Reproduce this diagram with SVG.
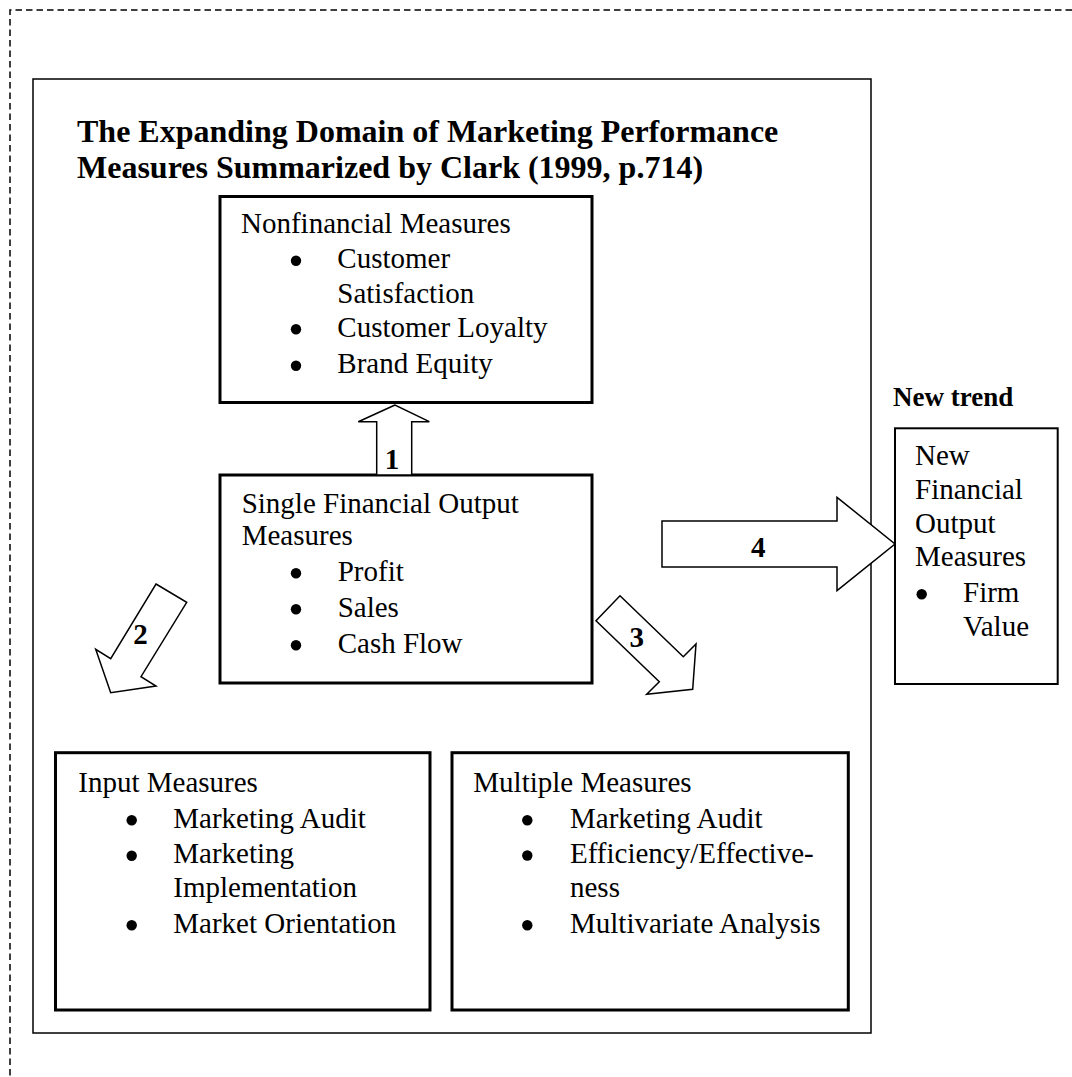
<svg xmlns="http://www.w3.org/2000/svg" width="1072" height="1077" viewBox="0 0 1072 1077">
<style>
  text { font-family: "Liberation Serif", "Times New Roman", serif; fill: #000; }
  .body { font-size: 29px; }
  .title { font-size: 32px; font-weight: bold; }
  .num { font-size: 29px; font-weight: bold; text-anchor: middle; }
  .trend { font-size: 27px; font-weight: bold; }
  .box { fill: #fff; stroke: #000; stroke-width: 3; }
  .thinbox { fill: #fff; stroke: #000; stroke-width: 2; }
  .outer { fill: #fff; stroke: #000; stroke-width: 1.5; }
  .dash { fill: none; stroke: #000; stroke-width: 1.5; stroke-dasharray: 6.5 4; }
  .arrow { fill: #fff; stroke: #000; stroke-width: 1.5; stroke-linejoin: miter; }
  .bullet { fill: #000; }
</style>
<rect width="1072" height="1077" fill="#fff"/>
<g id="frame">
  <path class="dash" d="M1072,10 H10 V1077"/>
  <rect class="outer" x="33" y="79" width="838" height="954"/>
  <text class="title" x="77" y="141.7">The Expanding Domain of Marketing Performance</text>
  <text class="title" x="77" y="178.3">Measures Summarized by Clark (1999, p.714)</text>
</g>
<g id="nonfinancial">
  <rect class="box" x="220" y="196.5" width="372" height="206"/>
  <text class="body" x="241" y="232.7">Nonfinancial Measures</text>
  <circle class="bullet" cx="296" cy="260.8" r="5.2"/>
  <text class="body" x="337.3" y="268.3">Customer</text>
  <text class="body" x="337.3" y="302.7">Satisfaction</text>
  <circle class="bullet" cx="296" cy="329.2" r="5.2"/>
  <text class="body" x="337.3" y="336.7">Customer Loyalty</text>
  <circle class="bullet" cx="296" cy="365.8" r="5.2"/>
  <text class="body" x="337.3" y="373.3">Brand Equity</text>
</g>
<g id="single">
  <rect class="box" x="220" y="475" width="372" height="208"/>
  <text class="body" x="241.7" y="512.7">Single Financial Output</text>
  <text class="body" x="241.7" y="545">Measures</text>
  <circle class="bullet" cx="296" cy="573.2" r="5.2"/>
  <text class="body" x="337.7" y="580.7">Profit</text>
  <circle class="bullet" cx="296" cy="609.2" r="5.2"/>
  <text class="body" x="337.7" y="616.7">Sales</text>
  <circle class="bullet" cx="296" cy="645.2" r="5.2"/>
  <text class="body" x="337.7" y="652.7">Cash Flow</text>
</g>
<g id="input">
  <rect class="box" x="55.5" y="752.7" width="374.5" height="257.3"/>
  <text class="body" x="78.3" y="791.7">Input Measures</text>
  <circle class="bullet" cx="131.7" cy="820.2" r="5.2"/>
  <text class="body" x="173.3" y="827.7">Marketing Audit</text>
  <circle class="bullet" cx="131.7" cy="855.8" r="5.2"/>
  <text class="body" x="173.3" y="863.3">Marketing</text>
  <text class="body" x="173.3" y="896.7">Implementation</text>
  <circle class="bullet" cx="131.7" cy="925.2" r="5.2"/>
  <text class="body" x="173.3" y="932.7">Market Orientation</text>
</g>
<g id="multiple">
  <rect class="box" x="452" y="752.7" width="396.3" height="257.3"/>
  <text class="body" x="473.3" y="791.7">Multiple Measures</text>
  <circle class="bullet" cx="527.3" cy="820.2" r="5.2"/>
  <text class="body" x="570" y="827.7">Marketing Audit</text>
  <circle class="bullet" cx="527.3" cy="855.5" r="5.2"/>
  <text class="body" x="570" y="863">Efficiency/Effective-</text>
  <text class="body" x="570" y="896.7">ness</text>
  <circle class="bullet" cx="527.3" cy="925.2" r="5.2"/>
  <text class="body" x="570" y="932.7">Multivariate Analysis</text>
</g>
<g id="newtrend">
  <text class="trend" x="893" y="406">New trend</text>
  <rect class="thinbox" x="895" y="428.3" width="162.7" height="255.7"/>
  <text class="body" x="915" y="465">New</text>
  <text class="body" x="915" y="499">Financial</text>
  <text class="body" x="915" y="532.7">Output</text>
  <text class="body" x="915" y="565.7">Measures</text>
  <circle class="bullet" cx="921.7" cy="594.2" r="5.2"/>
  <text class="body" x="963" y="601.7">Firm</text>
  <text class="body" x="963" y="636">Value</text>
</g>
<g id="connectors">
  <g id="arrow1">
    <polygon class="arrow" points="395,405 358.3,421.7 376.7,421.7 376.7,475 411.7,475 411.7,421.7 429.3,421.7"/>
    <text class="num" x="392" y="469.3">1</text>
  </g>
  <g id="arrow2">
    <polygon class="arrow" points="156,584 186.7,602.3 141,676.7 156,686 110.7,692.7 95.7,649.3 110.7,658.7"/>
    <text class="num" x="140.5" y="644">2</text>
  </g>
  <g id="arrow3">
    <polygon class="arrow" points="620,595.7 683.3,656.7 696,644 692.7,689.3 646.7,694.3 659.3,681.7 596,620.7"/>
    <text class="num" x="636.7" y="647">3</text>
  </g>
  <g id="arrow4">
    <polygon class="arrow" points="662,521 837,521 837,497.3 895,544 837,590.7 837,567 662,567"/>
    <text class="num" x="758.3" y="556.7">4</text>
  </g>
</g>
</svg>
